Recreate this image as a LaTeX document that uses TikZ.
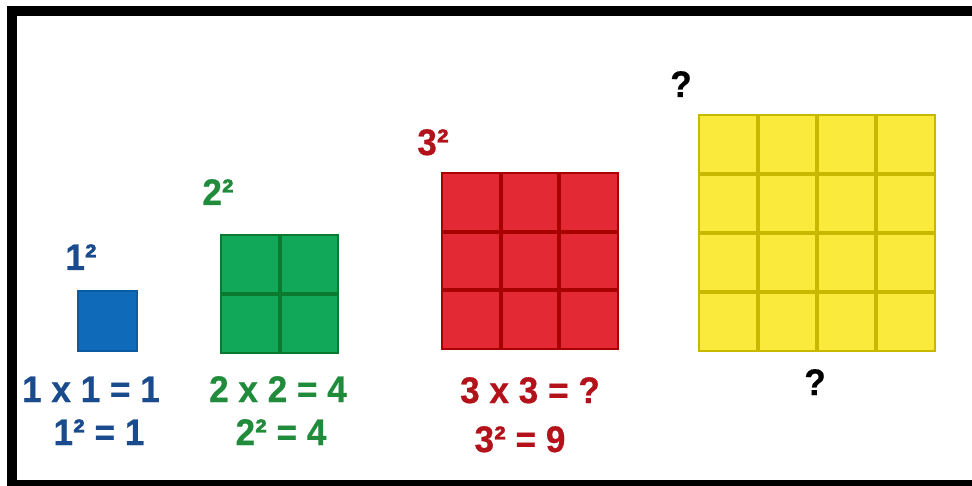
\documentclass[tikz,border=0pt]{standalone}
\usepackage{fontspec}
\setmainfont{Liberation Sans}
\newfontfamily\lblfont[FakeStretch=0.95, FakeBold=0.6]{Liberation Sans Bold}
\definecolor{bluetxt}{HTML}{1A4B8C}
\definecolor{greentxt}{HTML}{1F8B3B}
\definecolor{redtxt}{HTML}{B3121A}
\definecolor{bluefill}{HTML}{0F6BBA}
\definecolor{blueline}{HTML}{0B5BA3}
\definecolor{greenfill}{HTML}{11A85A}
\definecolor{greenline}{HTML}{0B7A2E}
\definecolor{redfill}{HTML}{E32933}
\definecolor{redline}{HTML}{A80000}
\definecolor{yellowfill}{HTML}{F9EA3C}
\definecolor{yellowline}{HTML}{C8B900}
\tikzset{
  lbl/.style={anchor=base, inner sep=0pt, font=\fontsize{37}{40}\lblfont},
}
\begin{document}
\begin{tikzpicture}[x=1pt,y=-1pt]
\useasboundingbox (0,0) rectangle (972,486);
\begin{scope}
\clip (0,0) rectangle (972,486);
\fill[white] (0,0) rectangle (972,486);
% frame
\draw[line width=10pt] (12,11) rectangle (990,485);
% blue 1x1
\fill[bluefill] (78,291) rectangle (137,351);
\draw[blueline, line width=1.5pt] (78,291) rectangle (137,351);
% green 2x2
\fill[greenfill] (221,235) rectangle (338,353);
\draw[greenline, line width=4pt] (279.5,235) -- (279.5,353) (221,294) -- (338,294);
\draw[greenline, line width=1.5pt] (221,235) rectangle (338,353);
% red 3x3
\fill[redfill] (442,173) rectangle (618,349);
\foreach \i in {1,2} {
  \draw[redline, line width=4pt] ({442+\i*176/3},173) -- ({442+\i*176/3},349);
  \draw[redline, line width=4pt] (442,{173+\i*176/3}) -- (618,{173+\i*176/3});
}
\draw[redline, line width=1.5pt] (442,173) rectangle (618,349);
% yellow 4x4
\fill[yellowfill] (699,115) rectangle (935,351);
\foreach \i in {1,2,3} {
  \draw[yellowline, line width=4pt] ({699+\i*59},115) -- ({699+\i*59},351);
  \draw[yellowline, line width=4pt] (699,{115+\i*59}) -- (935,{115+\i*59});
}
\draw[yellowline, line width=1.5pt] (699,115) rectangle (935,351);
\end{scope}
% labels
\node[lbl, text=bluetxt] (l1) at (81,270) {1²};
\node[lbl, text=bluetxt] (e1a) at (91,402) {1 x 1 = 1};
\node[lbl, text=bluetxt] (e1b) at (99,445) {1² = 1};
\node[lbl, text=greentxt] (l2) at (218,205) {2²};
\node[lbl, text=greentxt] (e2a) at (278,402) {2 x 2 = 4};
\node[lbl, text=greentxt] (e2b) at (281,445) {2² = 4};
\node[lbl, text=redtxt] (l3) at (433,155) {3²};
\node[lbl, text=redtxt] (e3a) at (530,403) {3 x 3 = ?};
\node[lbl, text=redtxt] (e3b) at (520,452) {3² = 9};
\node[lbl, text=black] (q1) at (681,97) {?};
\node[lbl, text=black] (q2) at (815,395) {?};
\end{tikzpicture}
\end{document}
